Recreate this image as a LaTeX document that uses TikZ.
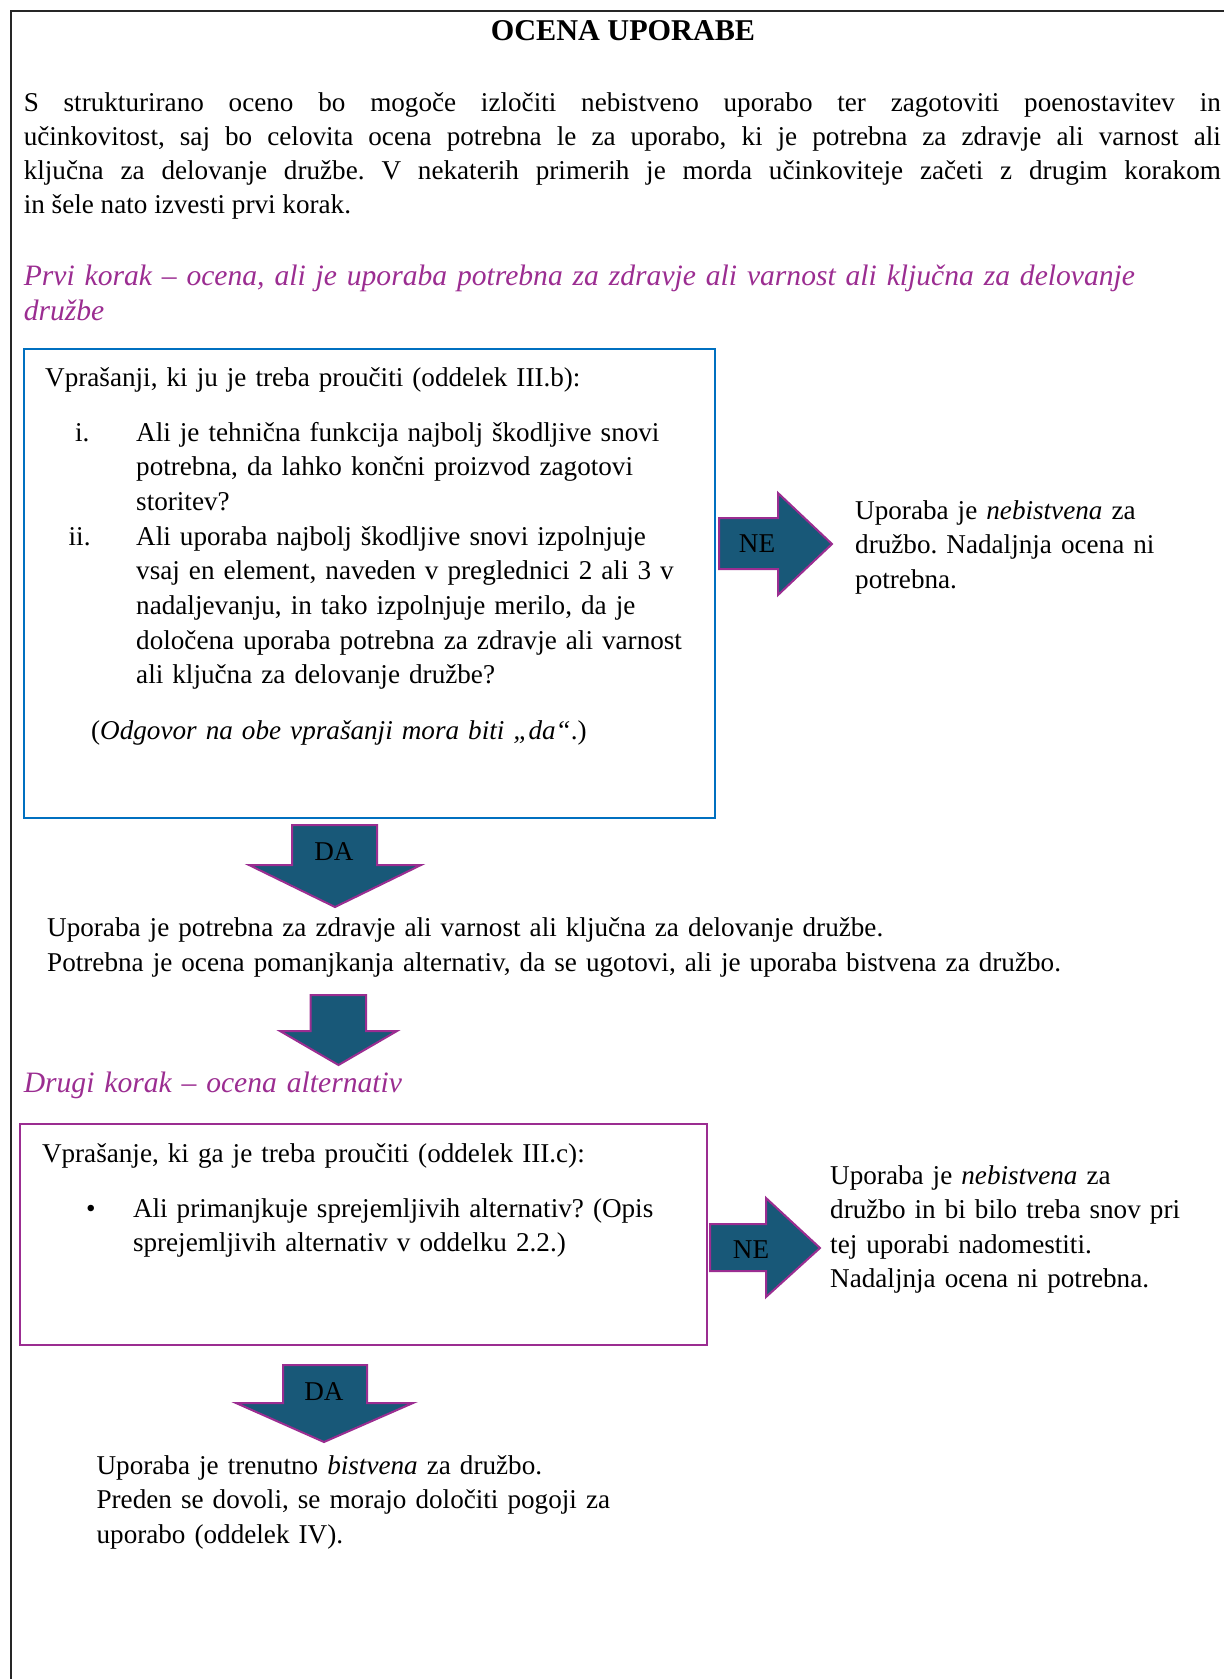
\documentclass[tikz,border=0pt]{standalone}
\usepackage{fontspec}
\setmainfont{Liberation Serif}
\frenchspacing
\definecolor{boxblue}{RGB}{0,112,192}
\definecolor{purp}{RGB}{155,45,145}
\definecolor{arrowfill}{RGB}{24,88,120}
\tikzset{
  txt/.style={inner sep=0pt, anchor=base west, font=\fontsize{27.15}{34.5}\selectfont\frenchspacing, align=left, text width=1100pt},
  head/.style={inner sep=0pt, anchor=base west, text=purp, font=\fontsize{29.6}{35}\selectfont\itshape\frenchspacing, align=left, text width=1190pt},
  lbl/.style={inner sep=0pt, font=\fontsize{27.15}{34.5}\selectfont},
  bigarrow/.style={fill=arrowfill, draw=purp, line width=2pt, line join=miter},
  qbox/.style={line width=2pt},
}
\begin{document}
\begin{tikzpicture}[x=1pt,y=-1pt]
\useasboundingbox (0,0) rectangle (1224,1679);
% outer frame (only left and top visible)
\draw[line width=1.4pt, black!85] (11,1679) -- (11,11) -- (1224,11);

% title
\node[inner sep=0pt, anchor=base, font=\fontsize{30.2}{36}\selectfont\bfseries] (title) at (623,40) {OCENA UPORABE};

% intro paragraph
\node[inner sep=0pt, anchor=base west, font=\fontsize{27.15}{34}\selectfont\frenchspacing, text width=1197pt, align=justify] (intro) at (23.6,111)
{\hyphenpenalty=10000 S strukturirano oceno bo mogoče izločiti nebistveno uporabo ter zagotoviti poenostavitev in\linebreak
učinkovitost, saj bo celovita ocena potrebna le za uporabo, ki je potrebna za zdravje ali varnost ali\linebreak
ključna za delovanje družbe. V nekaterih primerih je morda učinkoviteje začeti z drugim korakom\linebreak
in šele nato izvesti prvi korak.};

% heading 1
\node[head] (h1) at (23.6,285) {Prvi korak – ocena, ali je uporaba potrebna za zdravje ali varnost ali ključna za delovanje\\ družbe};

% box 1
\draw[qbox, draw=boxblue] (23.6,349) rectangle (715,818);
\node[txt] (q1) at (45,386) {Vprašanji, ki ju je treba proučiti (oddelek III.b):};
\node[txt, text width=60pt] (n1) at (75,441) {i.};
\node[txt, text width=580pt, font=\fontsize{27.15}{34.7}\selectfont\frenchspacing] (it1) at (136,441) {Ali je tehnična funkcija najbolj škodljive snovi\\ potrebna, da lahko končni proizvod zagotovi\\ storitev?};
\node[txt, text width=60pt] (n2) at (68.5,545) {ii.};
\node[txt, text width=580pt, font=\fontsize{27.15}{34.7}\selectfont\frenchspacing] (it2) at (136,545) {Ali uporaba najbolj škodljive snovi izpolnjuje\\ vsaj en element, naveden v preglednici 2 ali 3 v\\ nadaljevanju, in tako izpolnjuje merilo, da je\\ določena uporaba potrebna za zdravje ali varnost\\ ali ključna za delovanje družbe?};
\node[txt] (note) at (91,739) {(\textit{Odgovor na obe vprašanji mora biti „da“}.)};

% NE arrow 1
\draw[bigarrow] (719,518) -- (778,518) -- (778,493) -- (832,544) -- (778,595) -- (778,569) -- (719,569) -- cycle;
\node[lbl] (ne1) at (757,544) {NE};
\node[txt, text width=360pt] (r1) at (855,519) {Uporaba je \textit{nebistvena} za\\ družbo. Nadaljnja ocena ni\\ potrebna.};

% DA arrow 1
\draw[bigarrow] (292,825) -- (377,825) -- (377,865) -- (421,865) -- (335,907) -- (249,865) -- (292,865) -- cycle;
\node[lbl] (da1) at (334,852) {DA};
\node[txt, font=\fontsize{27.15}{35}\selectfont\frenchspacing] (t1) at (47,936) {Uporaba je potrebna za zdravje ali varnost ali ključna za delovanje družbe.\\ Potrebna je ocena pomanjkanja alternativ, da se ugotovi, ali je uporaba bistvena za družbo.};

% plain arrow
\draw[bigarrow] (310.7,995) -- (366,995) -- (366,1031) -- (397,1031) -- (338.5,1065) -- (280,1031) -- (310.7,1031) -- cycle;

% heading 2
\node[head] (h2) at (23.6,1092) {Drugi korak – ocena alternativ};

% box 2
\draw[qbox, draw=purp] (20.3,1124.4) rectangle (706.8,1345);
\node[txt] (q2) at (41.8,1162) {Vprašanje, ki ga je treba proučiti (oddelek III.c):};
\node[txt, text width=40pt] (b2) at (86,1217) {•};
\node[txt, text width=560pt] (it3) at (132.8,1217) {Ali primanjkuje sprejemljivih alternativ? (Opis\\ sprejemljivih alternativ v oddelku 2.2.)};

% NE arrow 2
\draw[bigarrow] (710,1224) -- (766,1224) -- (766,1198) -- (820,1248) -- (766,1297) -- (766,1271) -- (710,1271) -- cycle;
\node[lbl] (ne2) at (751,1250) {NE};
\node[txt, text width=390pt] (r2) at (830,1184) {Uporaba je \textit{nebistvena} za\\ družbo in bi bilo treba snov pri\\ tej uporabi nadomestiti.\\ Nadaljnja ocena ni potrebna.};

% DA arrow 2
\draw[bigarrow] (283,1365) -- (367,1365) -- (367,1403) -- (413,1403) -- (324,1442) -- (236,1403) -- (283,1403) -- cycle;
\node[lbl] (da2) at (324,1392) {DA};
\node[txt] (t2) at (96.4,1474) {Uporaba je trenutno \textit{bistvena} za družbo.\\ Preden se dovoli, se morajo določiti pogoji za\\ uporabo (oddelek IV).};
\end{tikzpicture}
\end{document}
